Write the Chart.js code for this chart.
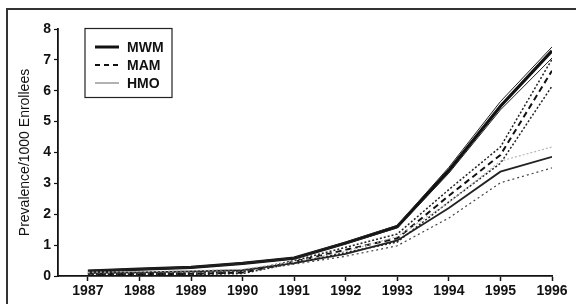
<!DOCTYPE html>
<html>
<head>
<meta charset="utf-8">
<script src="https://cdn.jsdelivr.net/npm/chart.js@4"></script>
<style>
  html, body { margin: 0; padding: 0; background: #fff; }
  #wrap { width: 576px; height: 304px; position: relative; }
</style>
</head>
<body>
<div id="wrap"><canvas id="chart" width="576" height="304"></canvas></div>
<script>
// Years on the x axis
const years = [1987, 1988, 1989, 1990, 1991, 1992, 1993, 1994, 1995, 1996];
const yTicks = [0, 1, 2, 3, 4, 5, 6, 7, 8];

// MWM: estimate and its bounds
const mwm     = [0.16, 0.22, 0.28, 0.41, 0.58, 1.07, 1.60, 3.42, 5.50, 7.29];
const mwmHigh = [0.18, 0.24, 0.30, 0.43, 0.60, 1.10, 1.64, 3.52, 5.65, 7.42];
const mwmLow  = [0.14, 0.20, 0.26, 0.39, 0.56, 1.04, 1.56, 3.33, 5.38, 7.06];

// MAM: estimate and its bounds
const mam     = [0.07, 0.06, 0.07, 0.11, 0.46, 0.85, 1.22, 2.60, 3.92, 6.65];
const mamHigh = [0.09, 0.08, 0.09, 0.14, 0.50, 0.93, 1.36, 2.80, 4.18, 7.02];
const mamLow  = [0.05, 0.04, 0.05, 0.08, 0.42, 0.76, 1.10, 2.40, 3.65, 6.15];

// HMO: estimate and its bounds
const hmo     = [0.10, 0.12, 0.15, 0.19, 0.42, 0.72, 1.15, 2.20, 3.38, 3.86];
const hmoHigh = [0.12, 0.14, 0.17, 0.22, 0.46, 0.80, 1.28, 2.38, 3.72, 4.18];
const hmoLow  = [0.08, 0.10, 0.12, 0.16, 0.38, 0.64, 0.98, 1.88, 3.02, 3.50];

const legendLabels = ['MWM', 'MAM', 'HMO'];

const pts = arr => arr.map((v, i) => ({ x: years[i], y: v }));

function line(label, arr, color, width, dash) {
  return {
    label: label,
    data: pts(arr),
    borderColor: color,
    borderWidth: width,
    borderDash: dash || [],
    pointRadius: 0,
    fill: false,
    tension: 0
  };
}

const datasets = [
  line('HMO high', hmoHigh, '#b8b8b8', 1.2, [2, 2]),
  line('HMO low', hmoLow, '#444', 1.2, [2, 3]),
  line('HMO', hmo, '#222', 1.8),
  line('MAM high', mamHigh, '#222', 1.5, [2, 2]),
  line('MAM low', mamLow, '#222', 1.5, [2, 2]),
  line('MAM', mam, '#111', 2, [6, 4]),
  line('MWM high', mwmHigh, '#222', 1),
  line('MWM low', mwmLow, '#222', 1),
  line('MWM', mwm, '#111', 3.2)
];

// legend line samples, one per legend row
const legendSamples = [
  { color: '#111', width: 3, dash: [] },
  { color: '#111', width: 2, dash: [5, 4] },
  { color: '#999', width: 1.5, dash: [] }
];

const tickFont = '"Liberation Sans", Arial, sans-serif';

const framePlugin = {
  id: 'frame',
  beforeDraw(chart) {
    const ctx = chart.ctx;
    ctx.save();
    ctx.strokeStyle = '#333';
    ctx.lineWidth = 2;
    ctx.beginPath();
    ctx.moveTo(7, 304);
    ctx.lineTo(7, 9);
    ctx.lineTo(576, 9);
    ctx.stroke();
    ctx.restore();
  }
};

const boxLegend = {
  id: 'boxLegend',
  afterDraw(chart) {
    const ctx = chart.ctx;
    ctx.save();
    ctx.strokeStyle = '#222';
    ctx.lineWidth = 1.2;
    ctx.strokeRect(85, 28.5, 87, 69);
    ctx.font = 'bold 14px ' + tickFont;
    ctx.fillStyle = '#111';
    ctx.textBaseline = 'middle';
    legendLabels.forEach((lab, i) => {
      const y = 47 + i * 18;
      const s = legendSamples[i];
      ctx.beginPath();
      ctx.strokeStyle = s.color;
      ctx.lineWidth = s.width;
      ctx.setLineDash(s.dash);
      ctx.moveTo(95, y);
      ctx.lineTo(119, y);
      ctx.stroke();
      ctx.setLineDash([]);
      ctx.fillText(lab, 127, y + 1);
    });
    ctx.restore();
  }
};

new Chart(document.getElementById('chart'), {
  type: 'line',
  data: { datasets: datasets },
  plugins: [framePlugin, boxLegend],
  options: {
    responsive: false,
    animation: false,
    layout: { padding: { left: 0, top: 29, right: 24, bottom: 0 } },
    plugins: { legend: { display: false }, tooltip: { enabled: false } },
    scales: {
      x: {
        type: 'linear',
        min: 1986.42,
        max: 1996,
        afterBuildTicks: s => { s.ticks = years.map(v => ({ value: v })); },
        afterFit: s => { s.height = 28; },
        grid: { drawOnChartArea: false, tickLength: 5, color: '#111', tickWidth: 1.5 },
        border: { color: '#111', width: 1.8 },
        ticks: {
          color: '#111',
          padding: 2,
          maxRotation: 0,
          autoSkip: false,
          font: { family: tickFont, size: 14, weight: 'bold' },
          callback: v => String(v)
        }
      },
      y: {
        min: 0,
        max: 8,
        afterBuildTicks: s => { s.ticks = yTicks.map(v => ({ value: v })); },
        afterFit: s => { s.width = 58; },
        grid: { drawOnChartArea: false, tickLength: 4, color: '#111', tickWidth: 1.2 },
        border: { color: '#111', width: 1.8 },
        title: {
          display: true,
          text: 'Prevalence/1000 Enrollees',
          color: '#111',
          padding: { top: 17, bottom: 0 },
          font: { family: tickFont, size: 14 }
        },
        ticks: {
          color: '#111',
          padding: 3,
          font: { family: tickFont, size: 14, weight: 'bold' }
        }
      }
    }
  }
});
</script>
</body>
</html>
